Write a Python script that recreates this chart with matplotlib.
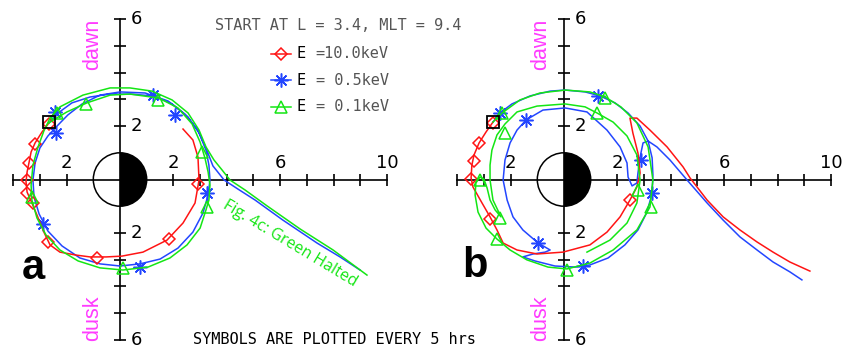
import matplotlib
matplotlib.use("Agg")
import matplotlib.pyplot as plt
from matplotlib.patches import Circle, Wedge

# ---------------- data (equatorial plane, Earth radii) ----------------
start_x, start_y = -2.66, 2.14

# panel a
a_red_x = [-2.66, -2.92, -3.18, -3.33, -3.41, -3.48, -3.52, -3.48, -3.33, -3.11, -2.85, -2.62,
           -2.25, -1.65, -1.12, -0.52, 0.07, 0.86, 1.76, 2.36, 2.81, 2.96, 2.92, 2.73, 2.36]
a_red_y = [2.12, 1.78, 1.37, 1.03, 0.62, 0.28, -0.09, -0.47, -0.81, -1.33, -1.97, -2.45,
           -2.72, -2.83, -2.90, -2.90, -2.87, -2.72, -2.27, -1.63, -0.88, -0.02, 0.84, 1.48, 1.89]
a_red_mx = [-2.66, -3.18, -3.41, -3.48, -3.48, -3.26, -2.70, -0.86, 1.84, 2.92]
a_red_my = [2.08, 1.33, 0.62, -0.02, -0.51, -0.88, -2.34, -2.94, -2.23, -0.17]

a_blue_x = [-2.66, -2.32, -1.80, -1.12, -0.37, 0.37, 1.24, 1.95, 2.55, 2.96, 3.22, 3.33, 3.37,
            3.30, 3.11, 2.73, 2.17, 1.50, 0.75, 0.00, -0.75, -1.50, -2.17, -2.70, -3.03, -3.22,
            -3.26, -3.18, -3.00, -2.70, -2.36, -1.95, -1.42, -0.75, 0.00, 0.94, 1.80, 2.43,
            2.92, 3.22, 3.48, 3.90, 4.42, 5.06, 6.10, 7.38, 8.24, 8.99]
a_blue_y = [2.12, 2.49, 2.87, 3.09, 3.20, 3.20, 3.13, 2.83, 2.34, 1.74, 1.10, 0.54, -0.02,
            -0.58, -1.25, -1.97, -2.57, -2.98, -3.16, -3.24, -3.16, -2.94, -2.49, -1.93, -1.29,
            -0.66, -0.02, 0.62, 1.18, 1.63, 2.00, 2.42, 2.83, 3.16, 3.28, 3.24, 2.94, 2.45,
            1.85, 1.18, 0.51, -0.02, -0.36, -0.77, -1.52, -2.38, -2.90, -3.39]
a_blue_mx = [-2.43, -2.40, -2.87, 0.75, 3.25, 2.06, 1.25]
a_blue_my = [2.54, 1.75, -1.65, -3.27, -0.52, 2.42, 3.16]

a_green_x = [-2.66, -2.43, -1.99, -1.24, -0.37, 0.37, 1.46, 2.17, 2.70, 3.00, 3.18, 3.30, 3.37,
             3.33, 3.22, 3.00, 2.51, 1.87, 1.05, 0.11, -0.75, -1.57, -2.25, -2.77, -3.11, -3.30,
             -3.33, -3.26, -3.07, -2.85, -2.62, -2.25, -1.39, -0.37, 0.37, 1.20, 1.95, 2.55,
             2.96, 3.22, 3.52, 3.82, 4.12, 4.68, 5.51, 6.74, 7.98, 9.25]
a_green_y = [2.12, 2.27, 2.53, 2.87, 3.16, 3.20, 3.05, 2.68, 2.08, 1.40, 0.81, 0.28, -0.21,
             -0.77, -1.14, -1.82, -2.45, -2.94, -3.28, -3.39, -3.31, -3.05, -2.64, -2.08, -1.44,
             -0.77, -0.21, 0.54, 1.22, 1.82, 2.30, 2.72, 3.16, 3.43, 3.43, 3.31, 2.98, 2.49,
             1.85, 1.22, 0.73, 0.36, -0.02, -0.39, -0.99, -1.85, -2.64, -3.58]
a_green_mx = [-2.37, -1.27, 1.44, 3.06, 3.25, 0.10, -3.31]
a_green_my = [2.48, 2.83, 2.98, 1.04, -1.02, -3.33, -0.64]

# panel b
b_red_x = [-2.66, -2.92, -3.18, -3.37, -3.45, -3.48, -3.41, -3.07, -2.77, -2.51, -2.28, -1.76,
           -1.01, -0.04, 0.97, 1.61, 2.10, 2.47, 2.73, 2.85, 2.77, 2.58, 2.47, 2.73, 3.22, 3.86,
           4.46, 4.72, 5.36, 5.96, 6.59, 7.23, 7.83, 8.46, 9.21]
b_red_y = [2.15, 1.78, 1.37, 0.92, 0.54, 0.06, -0.28, -0.88, -1.40, -1.89, -2.38, -2.64,
           -2.79, -2.72, -2.45, -1.97, -1.40, -0.77, -0.28, 0.24, 0.99, 1.74, 2.30, 2.30, 1.85,
           1.22, 0.47, 0.06, -0.77, -1.40, -1.89, -2.34, -2.72, -3.09, -3.43]
b_red_mx = [-2.66, -3.18, -3.37, -3.48, -2.77, 2.47]
b_red_my = [2.12, 1.37, 0.69, 0.02, -1.48, -0.77]

b_blue_x = [-2.66, -2.40, -1.95, -1.27, -0.52, 0.04, 0.79, 1.35, 1.91, 2.40, 2.85, 3.15, 3.30,
            3.33, 3.30, 3.11, 2.77, 2.28, 1.65, 0.97, 0.41, -0.34, -1.09, -1.54, -1.16, -0.71,
            -0.52, -0.71, -0.97, -1.54, -1.91, -2.13, -2.28, -2.21, -2.02, -1.76, -1.42, -0.79,
            0.04, 0.86, 1.61, 2.10, 2.36, 2.40, 2.55, 2.73, 2.77, 2.85, 2.96, 3.15, 3.48, 3.97,
            4.61, 5.36, 5.96, 6.59, 7.23, 7.83, 8.46, 8.91]
b_blue_y = [2.15, 2.49, 2.83, 3.13, 3.31, 3.35, 3.28, 3.13, 2.87, 2.49, 2.00, 1.44, 0.81,
            0.17, -0.51, -1.22, -1.89, -2.45, -2.94, -3.20, -3.28, -3.24, -3.05, -2.90, -2.79,
            -2.72, -2.64, -2.53, -2.38, -1.89, -1.40, -0.77, -0.02, 0.73, 1.37, 1.85, 2.23, 2.60,
            2.68, 2.53, 1.85, 1.22, 0.62, 0.09, -0.24, -0.13, 0.24, 0.84, 1.37, 1.44, 1.22, 0.73,
            -0.02, -0.88, -1.52, -2.15, -2.64, -3.09, -3.46, -3.76]
b_blue_mx = [-2.40, -1.42, -0.97, 0.71, 2.88, 3.30, 1.27]
b_blue_my = [2.49, 2.23, -2.38, -3.24, 0.73, -0.51, 3.13]

b_green_x = [-2.66, -2.32, -1.65, -0.90, 0.04, 0.97, 1.54, 2.13, 2.73, 3.15, 3.33, 3.22, 2.73,
             1.84, 0.97, 0.11, -0.60, -1.39, -2.02, -2.51, -2.92, -3.22, -3.33, -3.30, -3.15,
             -3.00, -2.88, -2.77, -2.58, -2.36, -2.66, -2.77, -2.77, -2.70, -2.51, -2.21, -1.76,
             -1.01, 0.04, 0.79, 1.24, 1.84, 2.36, 2.73, 2.85, 2.73, 2.36, 1.72, 0.86]
b_green_y = [2.15, 2.49, 2.98, 3.24, 3.35, 3.28, 3.09, 2.72, 2.12, 1.22, -0.02, -1.03, -1.89,
             -2.64, -3.13, -3.35, -3.28, -3.01, -2.64, -2.23, -1.82, -1.22, -0.58, -0.13, 0.09,
             0.02, -0.32, -0.77, -1.14, -1.40, -0.77, -0.02, 0.54, 1.10, 1.67, 2.08, 2.53,
             2.75, 2.83, 2.72, 2.49, 2.15, 1.63, 0.92, -0.02, -0.88, -1.63, -2.27, -2.72]
b_green_mx = [-2.32, 1.54, 3.26, 0.11, -2.51, -3.15, -2.40, -2.21, 1.24, 2.77]
b_green_my = [2.49, 3.05, -1.03, -3.39, -2.23, -0.02, -1.44, 1.74, 2.49, -0.39]

# axes furniture
x_axis_range = [-4, 10]
y_axis_range = [-6, 6]
x_ticks = [-4, -3, -2, 2, 3, 4, 5, 6, 7, 8, 9, 10]
y_ticks = [-6, -5, -4, -3, -2, 2, 3, 4, 5, 6]
x_label_pos = [-2, 2, 6, 10]
x_label_txt = ["2", "2", "6", "10"]
y_label_pos = [6, 2, -2, -6]
y_label_txt = ["6", "2", "2", "6"]

legend_labels = ["=10.0keV", "= 0.5keV", "= 0.1keV"]

RED, BLUE, GREEN = "#ff1414", "#2346ff", "#14e614"
MAGENTA = "#ff3cff"

# ---------------- layout ----------------
W, H = 845, 351
UNIT = 26.7          # pixels per Earth radius
ORIGIN_Y = 179.5

fig = plt.figure(figsize=(W / 100, H / 100), dpi=100)


def make_panel(px0, px1, ox):
    ax = fig.add_axes([px0 / W, 0, (px1 - px0) / W, 1])
    ax.set_xlim((px0 - ox) / UNIT, (px1 - ox) / UNIT)
    ax.set_ylim((ORIGIN_Y - H) / UNIT, ORIGIN_Y / UNIT)
    ax.axis("off")
    ax.patch.set_alpha(0)

    ax.add_patch(Circle((0, 0), 1, facecolor="white", edgecolor="none", zorder=1))
    ax.add_patch(Wedge((0, 0), 1, -90, 90, facecolor="black", edgecolor="none", zorder=1))
    ax.add_patch(Circle((0, 0), 1, facecolor="none", edgecolor="black", lw=1.1, zorder=1.5))

    ax.plot(x_axis_range, [0, 0], color="black", lw=1.2, zorder=2)
    ax.plot([0, 0], y_axis_range, color="black", lw=1.2, zorder=2)
    ax.plot(x_ticks, [0] * len(x_ticks), ls="none", marker="|", ms=8.5, mew=1.2,
            color="black", zorder=2)
    ax.plot([0] * len(y_ticks), y_ticks, ls="none", marker="_", ms=8.5, mew=1.2,
            color="black", zorder=2)
    for xv, t in zip(x_label_pos, x_label_txt):
        ax.annotate(t, (xv, 0), xytext=(0, 17), textcoords="offset pixels",
                    ha="center", va="center", fontsize=13, color="black")
    for yv, t in zip(y_label_pos, y_label_txt):
        ax.annotate(t, (0, yv), xytext=(16, 0), textcoords="offset pixels",
                    ha="center", va="center", fontsize=13, color="black")
    return ax


def trajectory(ax, x, y, mx, my, color, marker, ms, z):
    ax.plot(x, y, color=color, lw=1.1, zorder=z, solid_joinstyle="round")
    ax.plot(mx, my, ls="none", marker=marker, ms=ms, mfc="none", mec=color,
            mew=1.1, zorder=z)


MK_RED, MK_BLUE, MK_GREEN = ("D", 6), ((8, 2, 0), 10), ("^", 8.5)

ax_a = make_panel(0, 422, 120)
trajectory(ax_a, a_blue_x, a_blue_y, a_blue_mx, a_blue_my, BLUE, *MK_BLUE, 3)
trajectory(ax_a, a_red_x, a_red_y, a_red_mx, a_red_my, RED, *MK_RED, 3.5)
trajectory(ax_a, a_green_x, a_green_y, a_green_mx, a_green_my, GREEN, *MK_GREEN, 4)
ax_a.plot([start_x], [start_y], ls="none", marker="s", ms=8.5, mfc="none", mec="black",
          mew=1.3, zorder=5)

ax_b = make_panel(422, 845, 564)
trajectory(ax_b, b_blue_x, b_blue_y, b_blue_mx, b_blue_my, BLUE, *MK_BLUE, 3)
trajectory(ax_b, b_red_x, b_red_y, b_red_mx, b_red_my, RED, *MK_RED, 3.5)
trajectory(ax_b, b_green_x, b_green_y, b_green_mx, b_green_my, GREEN, *MK_GREEN, 4)
ax_b.plot([start_x], [start_y + 0.01], ls="none", marker="s", ms=8.5, mfc="none",
          mec="black", mew=1.3, zorder=5)

# ---------------- annotations (pixel coordinates) ----------------
ov = fig.add_axes([0, 0, 1, 1])
ov.set_xlim(0, W)
ov.set_ylim(H, 0)
ov.axis("off")
ov.patch.set_alpha(0)

mono = "DejaVu Sans Mono"
ov.text(215, 25, "START AT L = 3.4, MLT = 9.4", family=mono, fontsize=11,
        color="#555555", ha="left", va="center")
ov.text(193, 340, "SYMBOLS ARE PLOTTED EVERY 5 hrs", family=mono, fontsize=11,
        color="black", ha="left", va="center")

for i, (lab, col, mk) in enumerate(zip(legend_labels, [RED, BLUE, GREEN],
                                       [MK_RED, MK_BLUE, MK_GREEN])):
    yy = 53.5 + 26.7 * i
    ov.plot([271, 291], [yy, yy], color=col, lw=1.1)
    ov.plot([281], [yy], ls="none", marker=mk[0], ms=mk[1], mfc="none", mec=col, mew=1.1)
    ov.text(297, yy, "E", family=mono, fontsize=11, color="black", ha="left", va="center")
    ov.text(297 + 2 * 9.3, yy, lab, family=mono, fontsize=11, color="#555555",
            ha="left", va="center")

sans = "Liberation Sans"
for cx in (93, 541):
    ov.text(cx, 44, "dawn", family=sans, fontsize=15.5, color=MAGENTA, rotation=90,
            ha="center", va="center")
    ov.text(cx, 318, "dusk", family=sans, fontsize=15.5, color=MAGENTA, rotation=90,
            ha="center", va="center")

ov.text(33, 268, "a", family=sans, fontsize=30, fontweight="bold", color="black",
        ha="center", va="center")
ov.text(475, 266, "b", family=sans, fontsize=30, fontweight="bold", color="black",
        ha="center", va="center")

ov.text(290, 244, "Fig. 4c: Green Halted", family="Open Sans", fontsize=11.5,
        color=GREEN, rotation=-31, rotation_mode="anchor", ha="center", va="center")

fig.savefig("out.png", dpi=100)
